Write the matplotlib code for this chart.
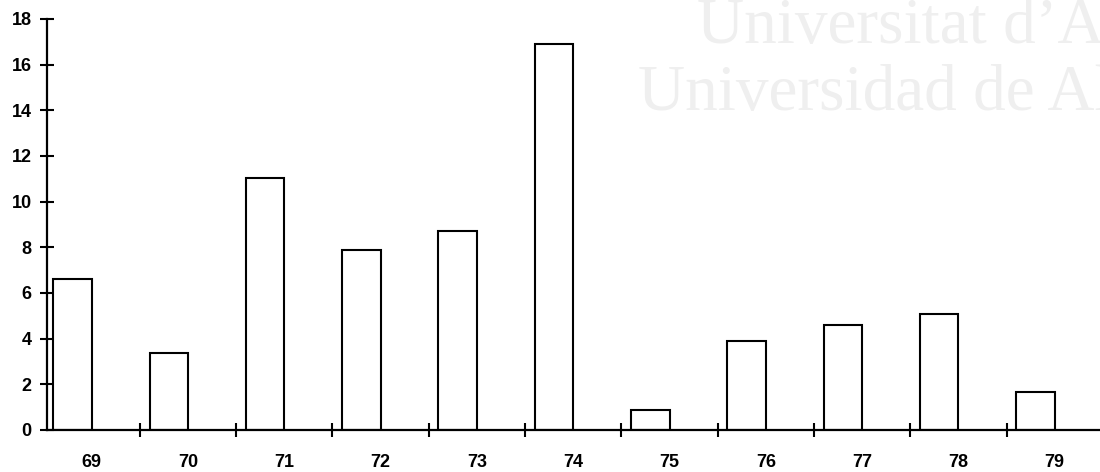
import numpy as np
import matplotlib
matplotlib.use("Agg")
import matplotlib.pyplot as plt

years = ["69", "70", "71", "72", "73", "74", "75", "76", "77", "78", "79"]
values = [6.6, 3.38, 11.05, 7.88, 8.72, 16.92, 0.88, 3.9, 4.6, 5.1, 1.66]
y_ticks = [0, 2, 4, 6, 8, 10, 12, 14, 16, 18]

fig = plt.figure(figsize=(11, 4.72), dpi=100)
ax = fig.add_axes([0.0427, 0.089, 0.9573, 0.871])

# faint watermark behind the chart
fig.text(0.634, 0.909, "Universitat d\u2019Alacant", family="Liberation Serif",
         fontsize=47, color="#efefef", ha="left", va="baseline", zorder=0)
fig.text(0.580, 0.767, "Universidad de Alicante", family="Liberation Serif",
         fontsize=47, color="#efefef", ha="left", va="baseline", zorder=0)
ax.patch.set_alpha(0)

x = np.arange(len(years))
ax.bar(x + 0.1, values, 0.4, align="edge", color="white", edgecolor="black", linewidth=1.5)

ax.set_xlim(0.035, 10.97)
ax.set_ylim(0, 18)
for s in ["top", "right"]:
    ax.spines[s].set_visible(False)
for s in ["left", "bottom"]:
    ax.spines[s].set_linewidth(1.6)

ax.set_yticks(y_ticks)
ax.set_yticklabels([str(t) for t in y_ticks], fontsize=13, fontweight="bold",
                   family="Liberation Sans")
ax.tick_params(axis="y", direction="inout", length=10, width=1.5, pad=6)

ax.set_xticks(x + 0.5)
ax.set_xticklabels(years, fontsize=13, fontweight="bold", family="Liberation Sans")
ax.set_xticks(x[1:], minor=True)
ax.tick_params(axis="x", which="major", length=0, pad=17)
ax.tick_params(axis="x", which="minor", direction="inout", length=10, width=1.5)

plt.savefig("out.png", dpi=100)
